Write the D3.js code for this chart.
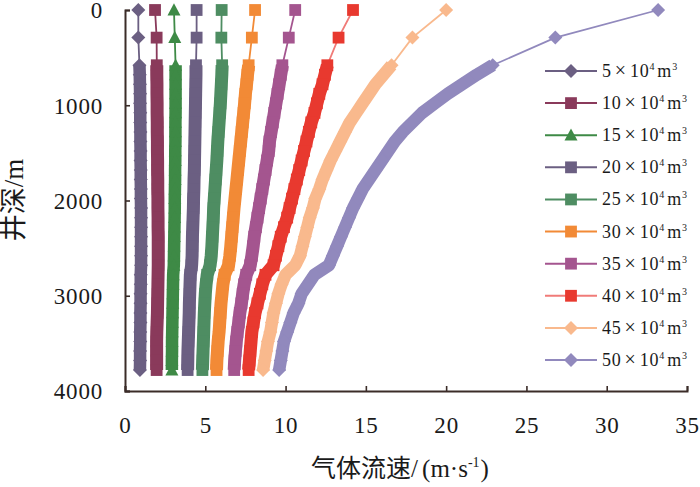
<!DOCTYPE html>
<html>
<head>
<meta charset="utf-8">
<script src="https://cdn.jsdelivr.net/npm/d3@7"></script>
<style>
  body { margin: 0; background: #fff; }
  svg { display: block; }
</style>
</head>
<body>
<div id="chart"></div>
<script>
// well depth (m) of every computed point
var depths = [0, 290, 580, 680, 780, 880, 980, 1080, 1180, 1280, 1380, 1480, 1580, 1680, 1780, 1880, 1980,
  2080, 2180, 2280, 2380, 2480, 2580, 2680, 2780, 2880, 2980, 3080, 3180, 3280, 3380, 3480, 3580, 3680, 3780];

// gas injection rate, x10^4 m3
var rates = ["5", "10", "15", "20", "25", "30", "35", "40", "45", "50"];

// gas velocity (m/s) per depth
var v5  = [0.83, 0.83, 0.90, 0.92, 0.93, 0.94, 0.94, 0.95, 0.95, 0.96, 0.96, 0.97, 0.97, 0.98, 0.98, 0.99, 0.99, 1.00, 1.00, 1.00, 1.00, 1.00, 1.00, 1.00, 0.98, 0.98, 0.97, 0.97, 0.96, 0.96, 0.95, 0.95, 0.94, 0.94, 0.93];
var v10 = [1.87, 1.97, 1.98, 1.98, 1.99, 1.99, 2.00, 2.00, 2.01, 2.01, 2.02, 2.02, 2.03, 2.03, 2.04, 2.04, 2.05, 2.05, 2.06, 2.06, 2.07, 2.07, 2.07, 2.07, 2.06, 2.05, 2.04, 2.03, 2.02, 2.00, 1.98, 1.97, 1.97, 1.97, 1.97];
var v15 = [3.05, 3.10, 3.15, 3.15, 3.15, 3.15, 3.15, 3.15, 3.14, 3.14, 3.14, 3.13, 3.13, 3.12, 3.12, 3.11, 3.10, 3.10, 3.09, 3.08, 3.07, 3.06, 3.05, 3.04, 3.00, 2.99, 2.98, 2.97, 2.96, 2.95, 2.94, 2.93, 2.93, 2.92, 2.92];
var v20 = [4.46, 4.46, 4.42, 4.42, 4.41, 4.40, 4.39, 4.38, 4.37, 4.36, 4.35, 4.34, 4.33, 4.32, 4.30, 4.29, 4.27, 4.26, 4.24, 4.22, 4.20, 4.19, 4.18, 4.15, 4.07, 4.05, 4.03, 4.01, 4.00, 3.98, 3.96, 3.94, 3.92, 3.91, 3.90];
var v25 = [6.02, 6.00, 6.05, 6.03, 6.00, 5.97, 5.94, 5.90, 5.86, 5.82, 5.78, 5.75, 5.72, 5.68, 5.64, 5.60, 5.56, 5.52, 5.50, 5.47, 5.44, 5.41, 5.37, 5.30, 5.12, 5.05, 5.00, 4.97, 4.94, 4.92, 4.90, 4.88, 4.86, 4.84, 4.82];
var v30 = [8.10, 7.90, 7.70, 7.63, 7.57, 7.50, 7.45, 7.39, 7.33, 7.27, 7.21, 7.15, 7.09, 7.03, 6.97, 6.91, 6.85, 6.79, 6.74, 6.69, 6.64, 6.59, 6.53, 6.45, 6.20, 6.10, 6.04, 5.98, 5.94, 5.90, 5.86, 5.80, 5.76, 5.72, 5.70];
var v35 = [10.6, 10.2, 9.80, 9.70, 9.60, 9.50, 9.40, 9.30, 9.20, 9.10, 9.00, 8.95, 8.85, 8.75, 8.65, 8.55, 8.45, 8.35, 8.25, 8.15, 8.05, 7.98, 7.90, 7.80, 7.55, 7.42, 7.33, 7.25, 7.15, 7.08, 7.00, 6.93, 6.88, 6.83, 6.80];
var v40 = [14.2, 13.3, 12.6, 12.45, 12.3, 12.1, 11.95, 11.8, 11.6, 11.45, 11.3, 11.15, 11.0, 10.85, 10.7, 10.55, 10.4, 10.25, 10.1, 9.9, 9.7, 9.55, 9.4, 9.25, 8.75, 8.55, 8.4, 8.25, 8.1, 8.0, 7.9, 7.85, 7.8, 7.75, 7.7];
var v45 = [20.0, 17.9, 16.6, 16.1, 15.6, 15.2, 14.8, 14.4, 14.0, 13.7, 13.4, 13.1, 12.8, 12.55, 12.3, 12.1, 11.85, 11.7, 11.5, 11.35, 11.2, 11.05, 10.9, 10.6, 10.0, 9.75, 9.55, 9.4, 9.25, 9.15, 9.05, 8.9, 8.8, 8.7, 8.6];
var v50 = [33.2, 26.8, 22.9, 21.9, 21.0, 20.1, 19.3, 18.5, 17.9, 17.3, 16.8, 16.4, 16.0, 15.6, 15.2, 14.8, 14.5, 14.2, 13.95, 13.7, 13.45, 13.2, 12.95, 12.7, 11.8, 11.4, 11.0, 10.8, 10.5, 10.3, 10.1, 9.9, 9.8, 9.7, 9.6];

var xTicks = [0, 5, 10, 15, 20, 25, 30, 35];
var yTicks = [0, 1000, 2000, 3000, 4000];

var values = [v5, v10, v15, v20, v25, v30, v35, v40, v45, v50];
var shapes = ["diamond", "square", "triangle", "square", "square", "square", "square", "square", "diamond", "diamond"];
var markColors = ["#6b5f82", "#8a3a5b", "#3e8a46", "#6b5f82", "#4e8d62", "#f28a36", "#a4558f", "#e8392f", "#f9b98d", "#9189bd"];
var lineColors = ["#6b5f82", "#8a3a5b", "#3e8a46", "#6b5f82", "#4e8d62", "#f28a36", "#a4558f", "#f07b78", "#f9b98d", "#9189bd"];

var W = 700, H = 487;
var serif = "'Liberation Serif', 'Noto Sans CJK SC', serif";
var axisColor = "#3b2c28";

var svg = d3.select("#chart").append("svg")
    .attr("width", W)
    .attr("height", H);

var x = d3.scaleLinear().domain([0, 35]).range([125, 687]);
var y = d3.scaleLinear().domain([0, 4000]).range([10, 391]);
var legendY = d3.scaleLinear().domain([0, rates.length - 1]).range([71, 360]);

function symbol(shape) {
  if (shape == "square") return "M-5.9,-5.9H5.9V5.9H-5.9Z";
  if (shape == "triangle") return "M0,-6.8L6.5,5.4H-6.5Z";
  return "M0,-7L7,0L0,7L-7,0Z";
}

var line = d3.line()
    .x(function(d) { return x(d[0]); })
    .y(function(d) { return y(d[1]); });

// series: thin line, the dense marker band, then the markers
rates.forEach(function(r, i) {
  var pts = values[i].map(function(v, j) { return [v, depths[j]]; });
  var g = svg.append("g").attr("class", "series s" + r);
  g.append("path")
    .datum(pts)
    .attr("d", line)
    .attr("fill", "none")
    .attr("stroke", lineColors[i])
    .attr("stroke-width", 1.8);
  g.append("path")
    .datum(pts.slice(2))
    .attr("d", line)
    .attr("fill", "none")
    .attr("stroke", markColors[i])
    .attr("stroke-width", shapes[i] == "square" ? 13 : 12.5)
    .attr("stroke-linejoin", "round");
  g.selectAll(".mark")
    .data(pts)
    .enter().append("path")
      .attr("class", "mark")
      .attr("d", symbol(shapes[i]))
      .attr("transform", function(d) { return "translate(" + x(d[0]) + "," + y(d[1]) + ")"; })
      .attr("fill", markColors[i]);
});

// axes
var xAxis = svg.append("g")
    .attr("transform", "translate(0," + y(4000) + ")")
    .call(d3.axisBottom(x).tickValues(xTicks).tickSize(-5).tickPadding(26).tickFormat(d3.format("d")));
var yAxis = svg.append("g")
    .attr("transform", "translate(" + x(0) + ",0)")
    .call(d3.axisLeft(y).tickValues(yTicks).tickSize(-5).tickPadding(22).tickFormat(d3.format("d")));

[xAxis, yAxis].forEach(function(a) {
  a.select(".domain").attr("stroke", axisColor).attr("stroke-width", 2);
  a.selectAll(".tick line").attr("stroke", axisColor).attr("stroke-width", 1.6);
  a.selectAll(".tick text")
    .attr("fill", "#1a1a1a")
    .style("font-family", serif)
    .style("font-size", "23px")
    .style("letter-spacing", "0.8px");
});
yAxis.selectAll(".tick text").attr("dy", "0.34em");

// axis titles
svg.append("text")
    .attr("transform", "translate(23," + 200 + ") rotate(-90)")
    .attr("text-anchor", "middle")
    .style("font-family", serif)
    .style("font-size", "27px")
    .attr("fill", "#1a1a1a")
    .text("井深/m");

var xt = svg.append("text")
    .attr("x", 400)
    .attr("y", 477)
    .attr("text-anchor", "middle")
    .style("font-family", serif)
    .style("font-size", "25px")
    .attr("fill", "#1a1a1a");
xt.append("tspan").text("气体流速/");
xt.append("tspan").attr("dx", 4).text("(m·s");
xt.append("tspan").attr("dy", -10).style("font-size", "14px").text("-1");
xt.append("tspan").attr("dy", 10).attr("dx", 1).text(")");

// legend
var leg = svg.selectAll(".legend")
    .data(rates)
    .enter().append("g")
      .attr("class", "legend")
      .attr("transform", function(d, i) { return "translate(0," + legendY(i) + ")"; });

leg.append("line")
    .attr("x1", 545).attr("x2", 597)
    .attr("stroke", function(d, i) { return lineColors[i]; })
    .attr("stroke-width", 2);
leg.append("path")
    .attr("d", function(d, i) { return symbol(shapes[i]); })
    .attr("transform", "translate(571,0)")
    .attr("fill", function(d, i) { return markColors[i]; });

var lt = leg.append("text")
    .attr("x", 602)
    .attr("y", 6)
    .style("font-family", serif)
    .style("font-size", "18px")
    .style("letter-spacing", "0.8px")
    .attr("fill", "#1a1a1a");
lt.append("tspan").text(function(d) { return d; });
lt.append("tspan").attr("dx", 3).style("font-size", "20px").text("×");
lt.append("tspan").attr("dx", 3).text("10");
lt.append("tspan").attr("dy", -7).style("font-size", "10px").text("4");
lt.append("tspan").attr("dy", 7).attr("dx", 2).text("m");
lt.append("tspan").attr("dy", -7).style("font-size", "10px").text("3");
</script>
</body>
</html>
